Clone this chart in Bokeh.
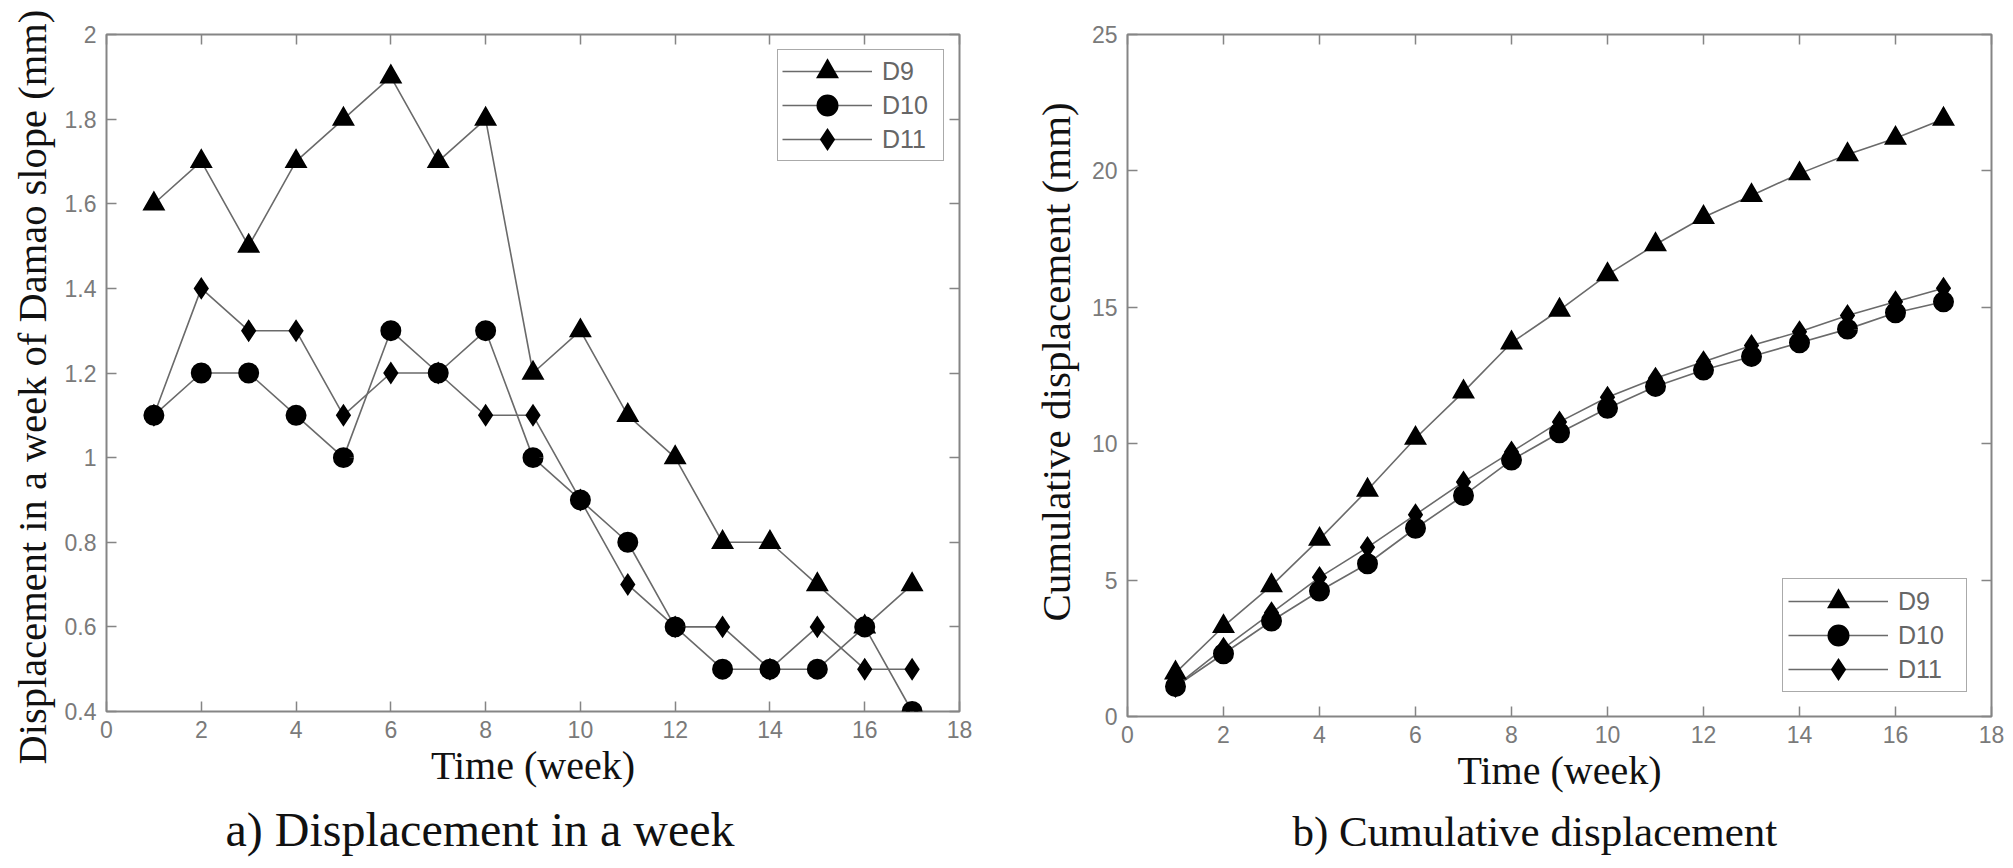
from bokeh.plotting import figure
from bokeh.models import Range1d, FixedTicker, LinearAxis, Legend, LegendItem, Title
from bokeh.layouts import row
from bokeh.embed import file_html
from bokeh.resources import INLINE

# ---------------- data ----------------
weeks = [1, 2, 3, 4, 5, 6, 7, 8, 9, 10, 11, 12, 13, 14, 15, 16, 17]
series_names = ["D9", "D10", "D11"]

d9_week = [1.6, 1.7, 1.5, 1.7, 1.8, 1.9, 1.7, 1.8, 1.2, 1.3, 1.1, 1.0, 0.8, 0.8, 0.7, 0.6, 0.7]
d10_week = [1.1, 1.2, 1.2, 1.1, 1.0, 1.3, 1.2, 1.3, 1.0, 0.9, 0.8, 0.6, 0.5, 0.5, 0.5, 0.6, 0.4]
d11_week = [1.1, 1.4, 1.3, 1.3, 1.1, 1.2, 1.2, 1.1, 1.1, 0.9, 0.7, 0.6, 0.6, 0.5, 0.6, 0.5, 0.5]

d9_cum = [1.6, 3.3, 4.8, 6.5, 8.3, 10.2, 11.9, 13.7, 14.9, 16.2, 17.3, 18.3, 19.1, 19.9, 20.6, 21.2, 21.9]
d10_cum = [1.1, 2.3, 3.5, 4.6, 5.6, 6.9, 8.1, 9.4, 10.4, 11.3, 12.1, 12.7, 13.2, 13.7, 14.2, 14.8, 15.2]
d11_cum = [1.1, 2.5, 3.8, 5.1, 6.2, 7.4, 8.6, 9.7, 10.8, 11.7, 12.4, 13.0, 13.6, 14.1, 14.7, 15.2, 15.7]

x_ticks = [0, 2, 4, 6, 8, 10, 12, 14, 16, 18]
x_tick_labels = ["0", "2", "4", "6", "8", "10", "12", "14", "16", "18"]
y_ticks_a = [0.4, 0.6, 0.8, 1.0, 1.2, 1.4, 1.6, 1.8, 2.0]
y_tick_labels_a = ["0.4", "0.6", "0.8", "1", "1.2", "1.4", "1.6", "1.8", "2"]
y_ticks_b = [0, 5, 10, 15, 20, 25]
y_tick_labels_b = ["0", "5", "10", "15", "20", "25"]

x_label = "Time (week)"
y_label_a = "Displacement in a week of Damao slope (mm)"
y_label_b = "Cumulative displacement (mm)"
caption_a = "a) Displacement in a week"
caption_b = "b) Cumulative displacement"

# ---------------- styles ----------------
FRAME = "#858585"
TICKLBL = "#7a7a7a"
LINE = "#6a6a6a"
SERIF = "Liberation Serif"
SANS = "Liberation Sans"
markers = ["triangle", "circle", "diamond"]
# (base size, stroke width) -> thick mitred strokes scale the legend markers up too
marker_base = [13.6, 12.6, 13.6]
marker_stroke = [5.4, 8.4, 5.2]


def make_panel(ys, yr, yticks, ylabels, ylabel, ylabel_size, ylab_offset, ylab_standoff,
               caption, cap_size, cap_offset, fw, fh, mb_l, mb_r, mb_t, mb_b,
               legend_loc, legend_margin, glyph_w, leg_pad, leg_lw):
    p = figure(frame_width=fw, frame_height=fh, x_range=Range1d(0, 18), y_range=Range1d(*yr),
               output_backend="svg", toolbar_location=None,
               min_border_left=mb_l, min_border_right=mb_r, min_border_top=mb_t, min_border_bottom=mb_b,
               background_fill_color="white", border_fill_color="white")
    p.grid.visible = False
    p.outline_line_color = FRAME
    p.outline_line_width = 2

    xa = p.xaxis[0]
    xa.ticker = FixedTicker(ticks=x_ticks)
    xa.major_label_overrides = dict(zip(x_ticks, x_tick_labels))
    ya = p.yaxis[0]
    ya.ticker = FixedTicker(ticks=yticks)
    ya.major_label_overrides = dict(zip(yticks, ylabels))
    for ax in (xa, ya):
        ax.axis_line_color = None
        ax.major_tick_in = 10
        ax.major_tick_out = 0
        ax.major_tick_line_color = FRAME
        ax.major_tick_line_width = 1.5
        ax.minor_tick_line_color = None
        ax.major_label_text_font = SANS
        ax.major_label_text_font_size = "23px"
        ax.major_label_text_color = TICKLBL
    xa.axis_label = x_label
    xa.axis_label_text_font = SERIF
    xa.axis_label_text_font_style = "normal"
    xa.axis_label_text_color = "#111111"
    xa.axis_label_text_font_size = "40px"
    xa.major_label_standoff = 9
    xa.axis_label_standoff = 2
    ya.major_label_standoff = 10

    # mirrored ticks (box style)
    top = LinearAxis(ticker=FixedTicker(ticks=x_ticks))
    right = LinearAxis(ticker=FixedTicker(ticks=yticks))
    for ax in (top, right):
        ax.axis_line_color = None
        ax.major_tick_in = 10
        ax.major_tick_out = 0
        ax.major_tick_line_color = FRAME
        ax.major_tick_line_width = 1.5
        ax.minor_tick_line_color = None
        ax.major_label_text_color = None
        ax.major_label_text_font_size = "1px"
        ax.major_label_standoff = 0
    p.add_layout(top, "above")
    p.add_layout(right, "right")

    # y axis title (vertical), placed along the axis like the original
    p.add_layout(Title(text=ylabel, align="left", offset=ylab_offset, standoff=ylab_standoff,
                       text_font=SERIF, text_font_size=ylabel_size, text_font_style="normal",
                       text_color="#111111"), "left")

    items = []
    lines = []
    for name, y in zip(series_names, ys):
        lines.append(p.line(weeks, y, line_color=LINE, line_width=1.6))
    for name, y, m, s, lw, ln in zip(series_names, ys, markers, marker_base, marker_stroke, lines):
        sc = p.scatter(weeks, y, marker=m, size=s, fill_color="black", line_color="black",
                       line_width=lw, line_join="miter")
        items.append(LegendItem(label=name, renderers=[ln, sc]))

    leg = Legend(items=items, location=legend_loc, margin=legend_margin,
                 border_line_color="#555555", border_line_width=1.5,
                 background_fill_color="white", background_fill_alpha=1,
                 label_text_font=SANS, label_text_font_size="25px", label_text_color="#666666",
                 glyph_width=glyph_w, glyph_height=34, spacing=0, padding=leg_pad,
                 label_standoff=10, label_width=leg_lw)
    p.add_layout(leg)

    p.add_layout(Title(text=caption, align="left", offset=cap_offset, standoff=20,
                       text_font=SERIF, text_font_size=cap_size, text_font_style="normal",
                       text_color="#111111"), "below")
    return p


# left figure: 102 + 853 + 53 = 1008 wide, 34 + 677 + 157 = 868 tall
pa = make_panel([d9_week, d10_week, d11_week], (0.4, 2.0), y_ticks_a, y_tick_labels_a,
                y_label_a, "40.5px", -53, 14,
                caption_a, "48px", 119, 853, 677, 102, 53, 34, 156,
                "top_right", 15, 90, 4, 57)
# right figure: 115 + 864 + 25 = 1004 wide, 30 + 682 + 156 = 868 tall
pb = make_panel([d9_cum, d10_cum, d11_cum], (0, 25), y_ticks_b, y_tick_labels_b,
                y_label_b, "41px", 95, 20,
                caption_b, "43px", 165, 864, 682, 115, 25, 30, 156,
                "bottom_right", 24, 100, 5, 63)

layout = row(pa, pb)
open("out.html", "w").write(file_html(layout, INLINE))
